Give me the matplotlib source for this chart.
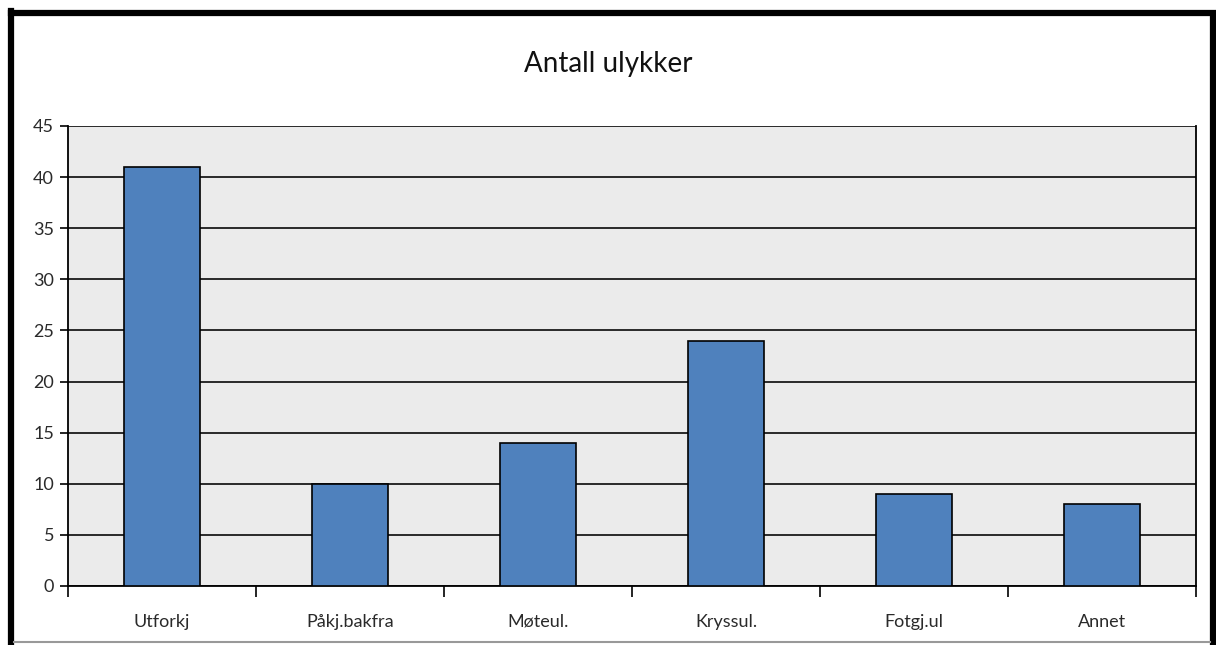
import numpy as np
import matplotlib.pyplot as plt
from matplotlib.lines import Line2D

# Data
kategorier = ['Utforkj', 'Påkj.bakfra', 'Møteul.', 'Kryssul.', 'Fotgj.ul', 'Annet']
antall = [41, 10, 14, 24, 9, 8]
y_ticks = [0, 5, 10, 15, 20, 25, 30, 35, 40, 45]

plt.rcParams['font.family'] = ['Lato', 'DejaVu Sans']

W, H = 1216, 645
fig = plt.figure(figsize=(W / 100, H / 100), dpi=100)
ax = fig.add_axes([68 / W, 59 / H, 1128 / W, 460 / H])

x = np.arange(len(kategorier))
ax.set_facecolor('#ebebeb')
ax.set_axisbelow(True)
ax.yaxis.grid(True, color='#1a1a1a', linewidth=1.3)
ax.bar(x, antall, width=0.4, color='#4f81bd', edgecolor='black', linewidth=1.2, zorder=3)

ax.set_xlim(-0.5, len(kategorier) - 0.5)
ax.set_ylim(0, 45)
ax.set_yticks(y_ticks)
ax.set_yticklabels([str(v) for v in y_ticks], fontsize=13, color='#2a2a2a')

# Kategorinavn midt i hver kolonne, tick-merker på grensene
ax.set_xticks(x)
ax.set_xticklabels(kategorier, fontsize=13, color='#2a2a2a')
ax.tick_params(axis='x', which='major', length=0, pad=20)
ax.set_xticks(np.arange(-0.5, len(kategorier)), minor=True)
ax.tick_params(axis='x', which='minor', length=8, width=1.2, color='black', direction='out')
ax.tick_params(axis='y', length=6, width=1.2, color='black', pad=4)

for s in ['left', 'right', 'bottom', 'top']:
    ax.spines[s].set_color('black')
    ax.spines[s].set_linewidth(1.3)
ax.spines['top'].set_visible(False)

fig.text(0.5, 1 - 64 / H, 'Antall ulykker', ha='center', va='center', fontsize=20, color='#111111')

# Ramme: tykk svart oppe, til venstre og til høyre, tynn grå nederst
def fig_line(xs, ys, **kw):
    fig.add_artist(Line2D([v / W for v in xs], [1 - v / H for v in ys],
                          transform=fig.transFigure, **kw))

fig_line([11, 1213, 1213], [13, 13, 645], color='black', linewidth=4.5, solid_joinstyle='miter')
fig_line([11, 11], [10.8, 645], color='black', linewidth=4.5)
fig_line([14, 1210], [642, 642], color='#999999', linewidth=1.5)

fig.savefig('out.png', dpi=100)
